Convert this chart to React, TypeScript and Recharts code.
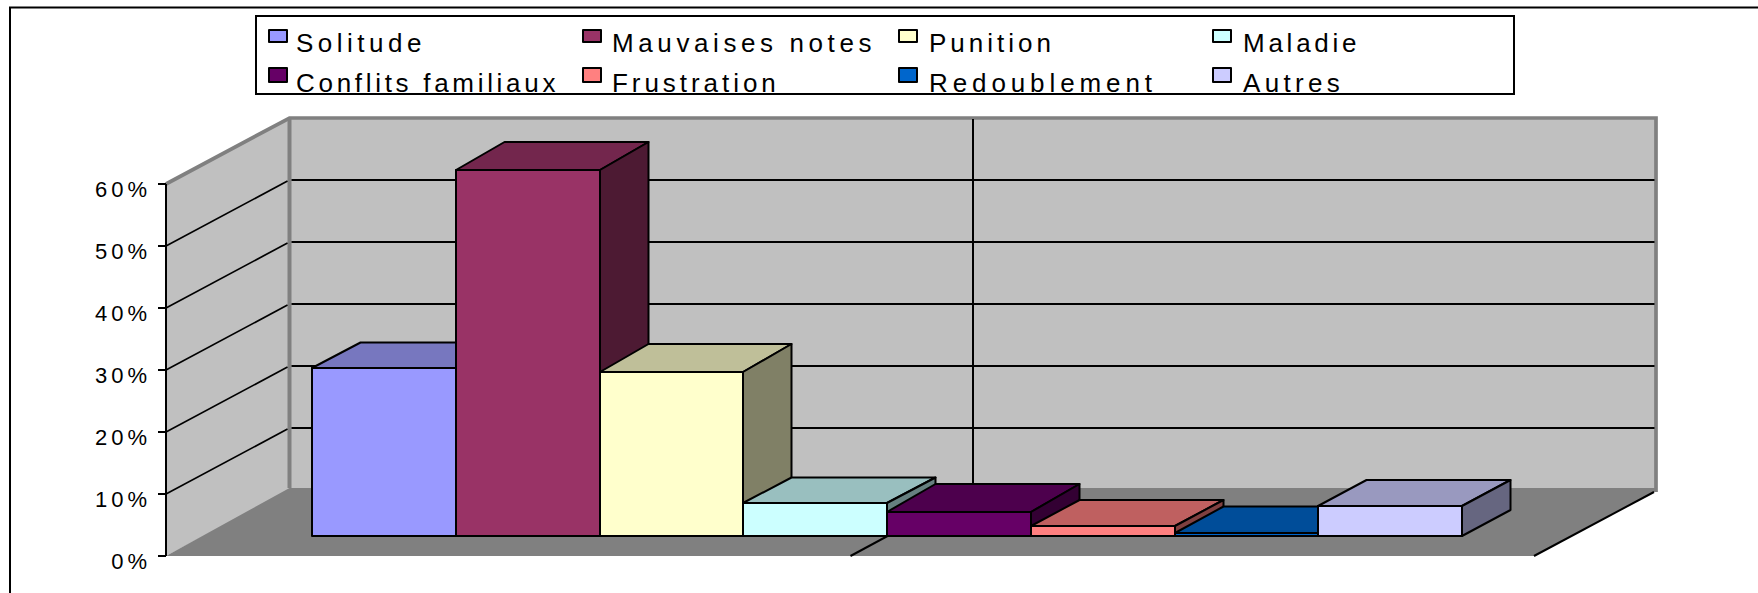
import { Bar, BarChart, CartesianGrid, Legend, XAxis, YAxis } from "recharts"

const seriesNames = [
  "Solitude",
  "Mauvaises notes",
  "Punition",
  "Maladie",
  "Conflits familiaux",
  "Frustration",
  "Redoublement",
  "Autres",
]
const seriesValues = [27.1, 59, 26.4, 5.2, 3.8, 1.6, 0.5, 4.8]
const yTicks = [0, 10, 20, 30, 40, 50, 60]

const frontColors = ["#9999FF", "#993366", "#FFFFCC", "#CCFFFF", "#660066", "#FF8080", "#0066CC", "#CCCCFF"]
const topColors = ["#7777BF", "#73264D", "#BFBF99", "#99BFBF", "#4D004D", "#BF6060", "#004D99", "#9999BF"]
const sideColors = ["#4D4D80", "#4D1A33", "#808066", "#668080", "#330033", "#804040", "#003366", "#666680"]
// the source picture rounds the box depth differently per bar
const depthRise = [25.5, 28, 28, 25.5, 28, 26, 26.5, 26]
// and its legend labels are not evenly spaced either
const legendSpacing = [4.5, 4.6, 4.0, 3.75, 3.7, 3.95, 4.9, 4.3]

const data = [Object.fromEntries([["category", "Causes"], ...seriesNames.map((n, i) => [n, seriesValues[i]])])]

// plot area is the front edge of the floor, the walls sit behind it
const PLOT = { left: 166, right: 1535, top: 184, bottom: 556 }
const WALL_DX = 123.5
const WALL_DY = -66
// bars stand a little way in from the front edge
const BAR_DX = 36
const BAR_DY = -20.3
const DEPTH_DX = 48.5

const GRAY = "#808080"
const WALL = "#C0C0C0"
const FONT = "Liberation Sans, Arial, sans-serif"

// sits in its own svg under the chart so the grid and axes land on top of it
function Walls() {
  const { left, right, top, bottom } = PLOT
  const bl = left + WALL_DX
  const br = 1656
  const bt = top + WALL_DY
  const bb = bottom + WALL_DY
  return (
    <svg width={1758} height={593} style={{ position: "absolute", left: 0, top: 0 }}>
      <rect x={10} y={7.5} width={1800} height={700} fill="#fff" stroke="#000" strokeWidth={2} />
      <polygon points={`${left},${top} ${bl},${bt} ${bl},${bb} ${left},${bottom}`} fill={WALL} />
      <rect x={bl} y={bt} width={br - bl} height={bb - bt} fill={WALL} />
      <polygon points={`${left},${bottom} ${bl},${bb - 2} ${br},${bb - 2} ${br},${bb + 2} ${br - 2},${bb + 2} ${right},${bottom}`} fill={GRAY} />
      <polyline points={`${left},${top} ${bl},${bt} ${br},${bt} ${br},${bb + 2}`} fill="none" stroke={GRAY} strokeWidth={3.7} />
      <line x1={bl} y1={bt} x2={bl} y2={bb - 2} stroke={GRAY} strokeWidth={4} />
      <line x1={right - 1} y1={bottom} x2={br - 2} y2={bb + 2} stroke="#000" strokeWidth={2} />
    </svg>
  )
}

function HorizontalGridLine({ x1, x2, y1 }: any) {
  // the floor and the top of the wall have their own edges
  if (y1 >= PLOT.bottom - 1 || y1 <= PLOT.top + 1) return null
  const backY = Math.round(y1 + WALL_DY)
  return (
    <g stroke="#000">
      <line x1={x1} y1={y1} x2={x1 + WALL_DX - 2} y2={y1 + WALL_DY + 1} strokeWidth={1.7} />
      <line x1={x1 + WALL_DX + 2} y1={backY} x2={x2 + WALL_DX - 4} y2={backY} strokeWidth={2} />
    </g>
  )
}

function VerticalGridLine({ x1 }: any) {
  // recharts may also ask for the two plot edges, only the middle one is wanted
  if (x1 <= PLOT.left + 1 || x1 >= PLOT.right - 1) return null
  const bx = Math.round(x1 + WALL_DX - 1.5)
  return (
    <g stroke="#000" strokeWidth={2}>
      <line x1={x1} y1={PLOT.bottom} x2={bx} y2={PLOT.bottom + WALL_DY} />
      <line x1={bx} y1={PLOT.top + WALL_DY + 1} x2={bx} y2={PLOT.bottom + WALL_DY - 2} />
    </g>
  )
}

function Box3D({ x, y, width, height, seriesIndex }: any) {
  const i = seriesIndex
  const rise = depthRise[i]
  // whole pixels keep the black outlines as solid as in the source
  const fx = Math.round(x + BAR_DX)
  const fy = Math.round(y + BAR_DY)
  const fr = Math.round(x + BAR_DX + width)
  const fb = Math.round(y + BAR_DY + height)
  const line = { stroke: "#000", strokeWidth: 2, strokeLinejoin: "round" as const }
  return (
    <g>
      <polygon
        points={`${fx},${fy} ${fx + DEPTH_DX},${fy - rise} ${fr + DEPTH_DX},${fy - rise} ${fr},${fy}`}
        fill={topColors[i]}
        {...line}
      />
      <polygon
        points={`${fr},${fy} ${fr + DEPTH_DX},${fy - rise} ${fr + DEPTH_DX},${fb - rise} ${fr},${fb}`}
        fill={sideColors[i]}
        {...line}
      />
      <rect x={fx} y={fy} width={fr - fx} height={fb - fy} fill={frontColors[i]} {...line} />
    </g>
  )
}

function LegendBox({ payload }: any) {
  const boxLeft = 255
  const boxTop = 15
  const swatchLeft = [268, 582, 898, 1212]
  const textLeft = [296, 612, 929, 1243]
  const swatchTop = [29, 67]
  const swatchHeight = [14, 16]
  const textTop = [28.7, 69]
  return (
    <div style={{ position: "absolute", left: boxLeft, top: boxTop, width: 1260, height: 80 }}>
      <div style={{ position: "absolute", inset: 0, background: "#fff", border: "2px solid #000", boxSizing: "border-box" }} />
      {(payload ?? []).map((p: any, i: number) => {
        const col = i % 4
        const row = Math.floor(i / 4)
        return (
          <div key={p.value}>
            <div
              style={{
                position: "absolute",
                left: swatchLeft[col] - boxLeft,
                top: swatchTop[row] - boxTop,
                width: 20,
                height: swatchHeight[row],
                boxSizing: "border-box",
                background: p.color,
                border: "2px solid #000",
                borderRadius: 1,
              }}
            />
            <div
              style={{
                position: "absolute",
                left: textLeft[col] - boxLeft,
                top: textTop[row] - boxTop,
                fontFamily: FONT,
                fontSize: 26,
                letterSpacing: legendSpacing[i],
                lineHeight: "28px",
                whiteSpace: "nowrap",
                color: "#000",
              }}
            >
              {p.value}
            </div>
          </div>
        )
      })}
    </div>
  )
}

export default function App() {
  return (
    <div style={{ position: "absolute", left: 0, top: 0, width: 1758, height: 593, overflow: "hidden", background: "#fff" }}>
      <Walls />
      <BarChart
        width={1758}
        height={593}
        data={data}
        barGap={0}
        barSize={143.75}
        margin={{ top: PLOT.top, right: 1758 - PLOT.right, bottom: 593 - PLOT.bottom, left: 0 }}
      >
        <CartesianGrid
          horizontal={(p: any) => <HorizontalGridLine key={p.key} {...p} />}
          vertical={(p: any) => <VerticalGridLine key={p.key} {...p} />}
          verticalCoordinatesGenerator={({ offset }: any) => [offset.left + offset.width / 2]}
        />
        <XAxis dataKey="category" height={0} tick={false} tickLine={false} axisLine={{ stroke: "#000", strokeWidth: 2 }} />
        <YAxis
          width={PLOT.left}
          domain={[0, 60]}
          ticks={yTicks}
          tickFormatter={(v) => `${v}%`}
          tick={{ fill: "#000", fontSize: 22, fontFamily: FONT, letterSpacing: 4, dy: 5 }}
          tickSize={8}
          tickMargin={7}
          axisLine={{ stroke: "#000", strokeWidth: 2 }}
          tickLine={{ stroke: "#000", strokeWidth: 2 }}
        />
        <Legend
          content={<LegendBox />}
          itemSorter={(item: any) => seriesNames.indexOf(item.value)}
          wrapperStyle={{ position: "absolute", left: 0, top: 0, width: 0, height: 0 }}
        />
        {seriesNames.map((name, i) => (
          <Bar
            key={name}
            dataKey={name}
            fill={frontColors[i]}
            isAnimationActive={false}
            shape={(p: any) => <Box3D {...p} seriesIndex={i} />}
          />
        ))}
      </BarChart>
    </div>
  )
}
